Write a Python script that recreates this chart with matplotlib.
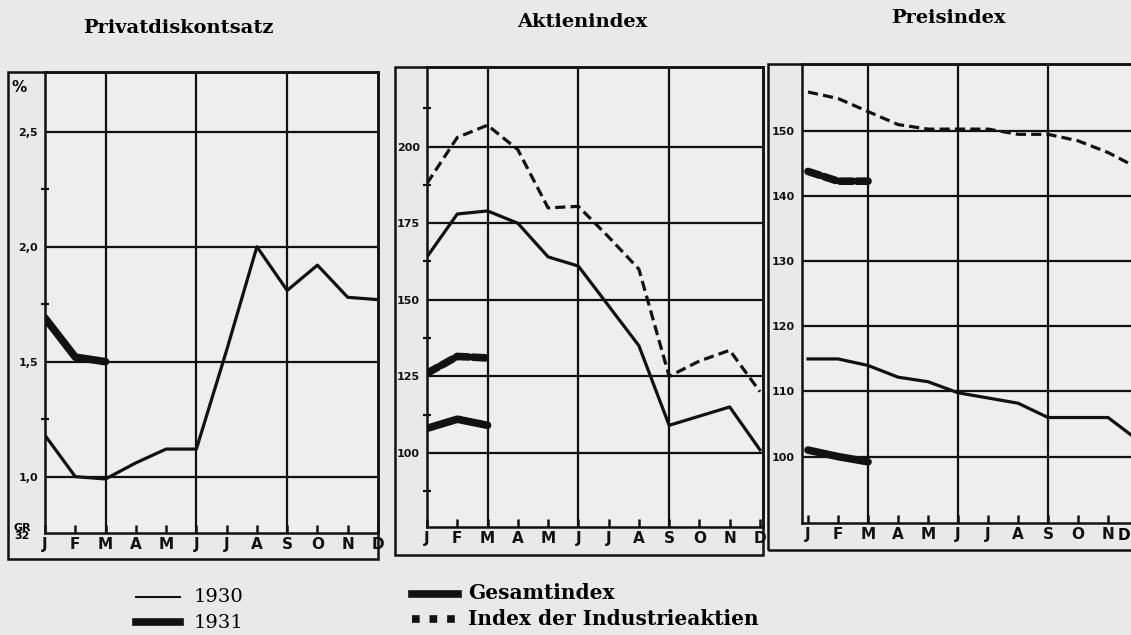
import matplotlib
matplotlib.use("Agg")
import matplotlib.pyplot as plt
from matplotlib.patches import Rectangle
from matplotlib.lines import Line2D

# DATA ------------------------------------------------------
months = ["J", "F", "M", "A", "M", "J", "J", "A", "S", "O", "N", "D"]

diskont_1930 = [1.18, 1.00, 0.99, 1.06, 1.12, 1.12, 1.55, 2.00, 1.81, 1.92, 1.78, 1.77]
diskont_1931 = [1.69, 1.52, 1.50]

aktien_gesamt_1930 = [164, 178, 179, 175, 164, 161, 148, 135, 109, 112, 115, 101]
aktien_industrie_1930 = [188, 203, 207, 199, 180, 180.5, 170.5, 160, 125, 130, 133.5, 120]
aktien_gesamt_1931 = [108, 111, 109]
aktien_industrie_1931 = [126, 131.5, 131]

preis_gesamt_1930 = [115, 115, 114, 112.2, 111.5, 109.8, 109, 108.2, 106, 106, 106, 102.5]
preis_industrie_1930 = [156, 155, 153, 151, 150.3, 150.3, 150.3, 149.5, 149.5, 148.5, 146.7, 144.3]
preis_gesamt_1931 = [101, 100, 99.2]
preis_industrie_1931 = [143.8, 142.3, 142.3]

titles = ["Privatdiskontsatz", "Aktienindex", "Preisindex"]

# LAYOUT ----------------------------------------------------
W, H = 1131, 635
paper = "#e9e9e9"
ink = "#111111"
serif = "DejaVu Serif"

fig = plt.figure(figsize=(W / 100, H / 100), dpi=100, facecolor=paper)


def box(x0, y0, x1, y1):
    return [x0 / W, 1 - y1 / H, (x1 - x0) / W, (y1 - y0) / H]


def frame(x0, y0, x1, y1):
    fig.add_artist(Rectangle((x0 / W, 1 - y1 / H), (x1 - x0) / W, (y1 - y0) / H,
                             transform=fig.transFigure, fill=False,
                             edgecolor=ink, lw=1.8, zorder=5))


def panel(inner, outer, xlim, ylim, major, minor, labels, xlabels=months):
    frame(*outer)
    ax = fig.add_axes(box(*inner))
    ax.set_facecolor("#eeeeee")
    ax.set_xlim(*xlim)
    ax.set_ylim(*ylim)
    for s in ax.spines.values():
        s.set_linewidth(1.8)
        s.set_color(ink)
    ax.set_xticks(range(12))
    ax.set_xticklabels(xlabels, fontsize=11, fontweight="bold", family="DejaVu Sans")
    ax.tick_params(axis="x", direction="in", length=6, width=1.8, pad=3, colors=ink)
    ax.set_yticks(major)
    ax.set_yticklabels(labels, fontsize=8, fontweight="bold", family="DejaVu Sans")
    ax.set_yticks(minor, minor=True)
    ax.tick_params(axis="y", which="major", length=0, pad=5, colors=ink)
    ax.tick_params(axis="y", which="minor", direction="inout", length=6, width=1.6, colors=ink)
    for v in major:
        ax.axhline(v, color=ink, lw=1.6, zorder=1)
    for m in (2, 5, 8):
        ax.axvline(m, color=ink, lw=1.6, zorder=1)
    return ax


thin = dict(color=ink, lw=2.3, solid_joinstyle="round", zorder=3)
thick = dict(color=ink, lw=5.5, solid_capstyle="round", solid_joinstyle="round", zorder=4)
dashed = dict(color=ink, lw=2.3, linestyle=(0, (3.2, 1.6)), zorder=3)
dotted_thick = dict(color=ink, lw=5.5, linestyle=(0, (1.6, 0.6)),
                    dash_capstyle="round", zorder=4)

x12 = list(range(12))
x3 = list(range(3))

# Privatdiskontsatz
ax1 = panel((45, 72, 378, 533), (8, 72, 378, 559), (0, 11), (0.755, 2.76),
            [1.0, 1.5, 2.0, 2.5], [1.25, 1.75, 2.25], ["1,0", "1,5", "2,0", "2,5"])
ax1.plot(x12, diskont_1930, **thin)
ax1.plot(x3, diskont_1931, **thick)
fig.text(19 / W, 1 - 88 / H, "%", fontsize=11, fontweight="bold", ha="center", va="center")
fig.text(22 / W, 1 - 532 / H, "GR\n32", fontsize=8, fontweight="bold", ha="center",
         va="center", linespacing=0.75)

# Aktienindex
ax2 = panel((427, 67, 763, 527), (395, 67, 763, 555), (0, 11.1), (75.8, 226),
            [100, 125, 150, 175, 200], [87.5, 112.5, 137.5, 162.5, 187.5, 212.5],
            ["100", "125", "150", "175", "200"])
ax2.plot(x12, aktien_gesamt_1930, **thin)
ax2.plot(x12, aktien_industrie_1930, **dashed)
ax2.plot(x3, aktien_gesamt_1931, **thick)
ax2.plot(x3, aktien_industrie_1931, **dotted_thick)

# Preisindex (runs past the right edge of the page)
ax3 = panel((802, 64, 1142, 523), (768, 64, 1142, 550), (-0.2, 11.13), (89.8, 160.3),
            [100, 110, 120, 130, 140, 150], [],
            ["100", "110", "120", "130", "140", "150"], xlabels=months[:-1] + [""])
ax3.plot(x12, preis_gesamt_1930, **thin)
ax3.plot(x12, preis_industrie_1930, **dashed)
ax3.plot(x3, preis_gesamt_1931, **thick)
ax3.plot(x3, preis_industrie_1931, **dotted_thick)
fig.text(1130 / W, 1 - 536 / H, months[-1], fontsize=11, fontweight="bold",
         family="DejaVu Sans", ha="right", va="center")

# titles
for t, (cx, cy) in zip(titles, [(178, 28), (582, 22), (948, 18)]):
    fig.text(cx / W, 1 - cy / H, t, fontsize=14, fontweight="bold",
             family=serif, ha="center", va="center")

# legend
def legend_line(x0, x1, y, **kw):
    fig.add_artist(Line2D([x0 / W, x1 / W], [1 - y / H, 1 - y / H],
                          transform=fig.transFigure, color=ink, **kw))


legend_line(136, 180, 597, lw=1.5)
legend_line(136, 180, 622, lw=5.5)
legend_line(412, 458, 594, lw=5.5)
legend_line(412, 458, 619, lw=5.5, linestyle=(0, (1.0, 1.3)))
fig.text(194 / W, 1 - 597 / H, "1930", fontsize=14, family=serif, va="center")
fig.text(194 / W, 1 - 623 / H, "1931", fontsize=14, family=serif, va="center")
fig.text(468 / W, 1 - 593 / H, "Gesamtindex", fontsize=14.5, fontweight="bold",
         family=serif, va="center")
fig.text(468 / W, 1 - 619 / H, "Index der Industrieaktien", fontsize=14.5, fontweight="bold",
         family=serif, va="center")

fig.savefig("out.png", dpi=100, facecolor=paper)
